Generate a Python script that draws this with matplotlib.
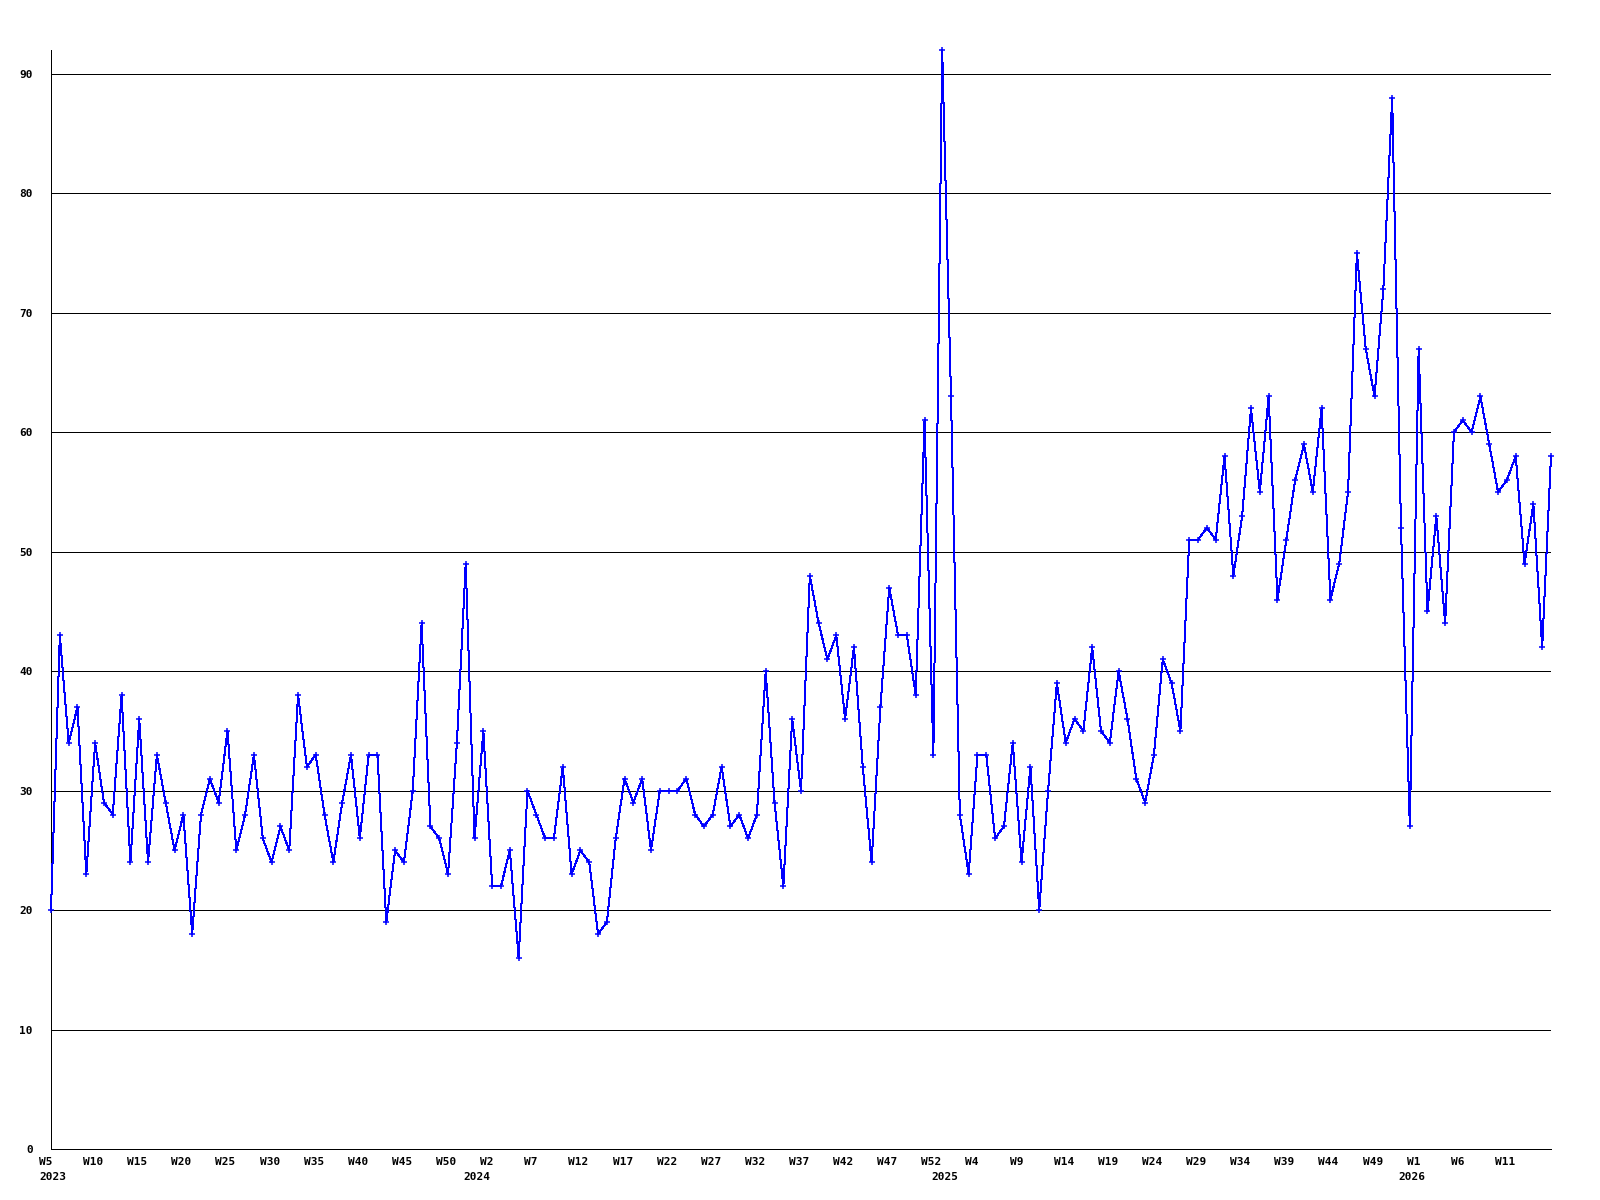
import matplotlib

matplotlib.use("Agg")
import matplotlib.pyplot as plt  # noqa: E402

# weekly values, 2023 W5 onwards
values = [
    20, 43, 34, 37, 23, 34, 29, 28, 38, 24,
    36, 24, 33, 29, 25, 28, 18, 28, 31, 29,
    35, 25, 28, 33, 26, 24, 27, 25, 38, 32,
    33, 28, 24, 29, 33, 26, 33, 33, 19, 25,
    24, 30, 44, 27, 26, 23, 34, 49, 26, 35,
    22, 22, 25, 16, 30, 28, 26, 26, 32, 23,
    25, 24, 18, 19, 26, 31, 29, 31, 25, 30,
    30, 30, 31, 28, 27, 28, 32, 27, 28, 26,
    28, 40, 29, 22, 36, 30, 48, 44, 41, 43,
    36, 42, 32, 24, 37, 47, 43, 43, 38, 61,
    33, 92, 63, 28, 23, 33, 33, 26, 27, 34,
    24, 32, 20, 30, 39, 34, 36, 35, 42, 35,
    34, 40, 36, 31, 29, 33, 41, 39, 35, 51,
    51, 52, 51, 58, 48, 53, 62, 55, 63, 46,
    51, 56, 59, 55, 62, 46, 49, 55, 75, 67,
    63, 72, 88, 52, 27, 67, 45, 53, 44, 60,
    61, 60, 63, 59, 55, 56, 58, 49, 54, 42,
    58,
]

week_labels = [
    "W5", "W10", "W15", "W20", "W25", "W30", "W35", "W40", "W45", "W50",
    "W2", "W7", "W12", "W17", "W22", "W27", "W32", "W37", "W42", "W47", "W52",
    "W4", "W9", "W14", "W19", "W24", "W29", "W34", "W39", "W44", "W49",
    "W1", "W6", "W11",
]
year_labels = ["2023", "2024", "2025", "2026"]
year_points = [1, 50, 103, 156]  # point index of first week shown in each year

y_ticks = [0, 10, 20, 30, 40, 50, 60, 70, 80, 90]

FONT = dict(family="DejaVu Sans Mono", fontweight="bold", fontsize=8)
PX = 0.72  # one pixel at dpi 100

x = list(range(1, len(values) + 1))

fig = plt.figure(figsize=(16, 12), dpi=100)
ax = fig.add_axes([51 / 1600, 51 / 1200, 1500 / 1600, 1099 / 1200])

for y in y_ticks[1:]:
    ax.axhline(y, color="black", linewidth=PX, antialiased=False, zorder=1)

ax.plot(x, values, color="#0000ff", linewidth=PX, marker="+", markersize=4.5,
        markeredgewidth=1.1, antialiased=False, zorder=3, clip_on=False)

ax.set_xlim(1, len(values))
ax.set_ylim(0, max(values))

for side in ("top", "right"):
    ax.spines[side].set_visible(False)
for side in ("left", "bottom"):
    ax.spines[side].set_linewidth(PX)
    ax.spines[side].set_color("black")
    ax.spines[side].set_antialiased(False)

ax.set_xticks([])
ax.set_yticks(y_ticks)
ax.set_yticklabels([str(v) for v in y_ticks], **FONT)
ax.tick_params(axis="y", length=0, pad=13)

label_points = [1 + 5 * k for k in range(len(week_labels))]
for pos, lab in zip(label_points, week_labels):
    ax.annotate(lab, xy=(pos, 0), xycoords=("data", "axes fraction"),
                xytext=(-12, -8), textcoords="offset pixels",
                ha="left", va="top", **FONT)

for pos, lab in zip(year_points, year_labels):
    dx = -12 if pos == 1 else -20
    ax.annotate(lab, xy=(pos, 0), xycoords=("data", "axes fraction"),
                xytext=(dx, -23), textcoords="offset pixels",
                ha="left", va="top", **FONT)

fig.savefig("out.png", dpi=100)
